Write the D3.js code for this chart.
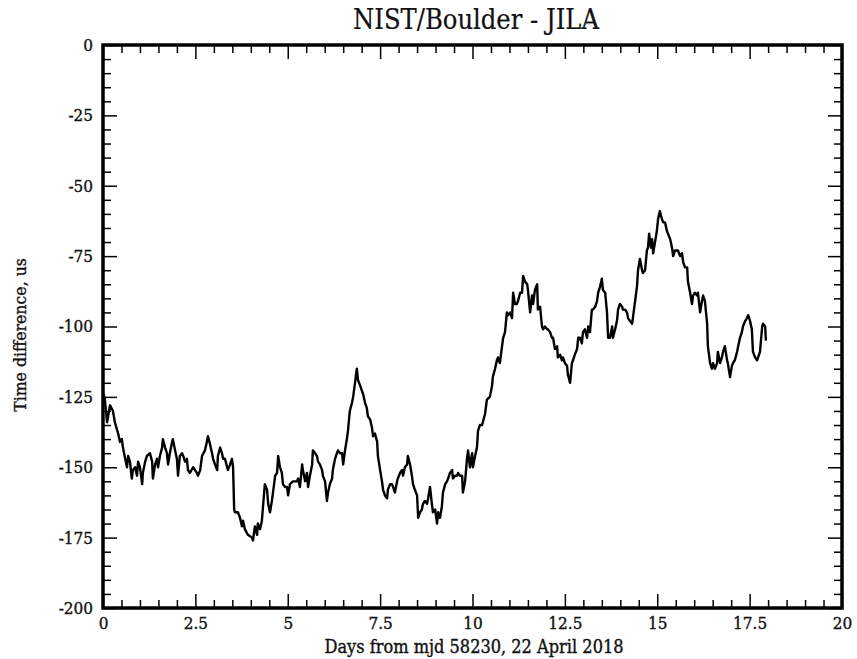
<!DOCTYPE html>
<html>
<head>
<meta charset="utf-8">
<script src="https://cdn.jsdelivr.net/npm/d3@7"></script>
<style>
  html, body { margin: 0; padding: 0; background: #fff; }
  svg { display: block; }
  .lbl { font-family: "DejaVu Serif Condensed", "DejaVu Serif", serif; font-stretch: condensed; fill: #111; stroke: #111; stroke-width: 0.35px; }
</style>
</head>
<body>
<svg id="chart" width="857" height="659"></svg>
<script>
// ---- data ----
const title = "NIST/Boulder - JILA";
const xLabel = "Days from mjd 58230, 22 April 2018";
const yLabel = "Time difference, us";
const xTicks = [0, 2.5, 5, 7.5, 10, 12.5, 15, 17.5, 20];
const yTicks = [0, -25, -50, -75, -100, -125, -150, -175, -200];

const days = [
  0.02,0.05,0.11,0.19,0.27,0.32,0.41,0.46,0.51,0.54,
  0.60,0.65,0.68,0.73,0.78,0.81,0.87,0.92,0.95,1.00,
  1.06,1.08,1.14,1.19,1.27,1.33,1.35,1.41,1.46,1.49,
  1.54,1.60,1.62,1.68,1.73,1.76,1.81,1.87,1.89,1.95,
  2.00,2.03,2.08,2.14,2.17,2.22,2.27,2.30,2.35,2.44,
  2.54,2.57,2.63,2.68,2.76,2.81,2.84,2.90,2.95,2.98,
  3.03,3.09,3.11,3.17,3.22,3.25,3.30,3.36,3.38,3.44,
  3.49,3.52,3.55,3.57,3.65,3.71,3.76,3.79,3.84,3.92,
  4.03,4.06,4.11,4.17,4.19,4.25,4.30,4.33,4.38,4.44,
  4.47,4.52,4.57,4.60,4.66,4.71,4.74,4.79,4.84,4.87,
  4.93,4.98,5.01,5.06,5.14,5.25,5.28,5.33,5.39,5.41,
  5.47,5.52,5.55,5.60,5.66,5.68,5.74,5.79,5.82,5.87,
  5.93,5.95,6.01,6.06,6.09,6.14,6.20,6.22,6.28,6.33,
  6.36,6.41,6.47,6.50,6.55,6.60,6.63,6.68,6.74,6.77,
  6.82,6.87,6.90,6.96,7.01,7.04,7.09,7.14,7.17,7.23,
  7.28,7.31,7.36,7.42,7.44,7.50,7.55,7.58,7.63,7.69,
  7.71,7.77,7.82,7.85,7.90,7.96,7.98,8.04,8.09,8.12,
  8.17,8.23,8.25,8.31,8.36,8.39,8.44,8.50,8.53,8.58,
  8.63,8.66,8.71,8.77,8.80,8.85,8.90,8.93,8.99,9.04,
  9.07,9.12,9.17,9.20,9.26,9.31,9.34,9.39,9.45,9.47,
  9.53,9.58,9.61,9.66,9.72,9.74,9.80,9.85,9.88,9.93,
  9.99,10.01,10.07,10.12,10.15,10.20,10.26,10.34,10.39,10.47,
  10.53,10.55,10.61,10.66,10.69,10.74,10.80,10.83,10.88,10.93,
  10.96,11.02,11.07,11.10,11.15,11.20,11.23,11.29,11.34,11.37,
  11.42,11.48,11.50,11.56,11.61,11.64,11.69,11.75,11.77,11.83,
  11.88,11.91,11.96,12.02,12.04,12.10,12.15,12.18,12.23,12.29,
  12.31,12.37,12.42,12.45,12.50,12.56,12.58,12.64,12.69,12.72,
  12.77,12.83,12.86,12.91,12.96,12.99,13.04,13.10,13.13,13.18,
  13.23,13.26,13.32,13.37,13.40,13.45,13.50,13.53,13.59,13.64,
  13.67,13.72,13.78,13.80,13.86,13.91,13.94,13.99,14.05,14.07,
  14.13,14.18,14.21,14.26,14.32,14.34,14.40,14.45,14.48,14.53,
  14.59,14.61,14.67,14.72,14.75,14.78,14.83,14.86,14.89,14.94,
  14.99,15.02,15.07,15.13,15.16,15.21,15.26,15.29,15.35,15.40,
  15.43,15.48,15.53,15.56,15.62,15.67,15.70,15.75,15.81,15.83,
  15.89,15.94,15.97,16.02,16.08,16.10,16.16,16.21,16.24,16.29,
  16.35,16.37,16.43,16.48,16.51,16.56,16.62,16.64,16.70,16.75,
  16.78,16.83,16.89,16.91,16.97,17.02,17.05,17.10,17.16,17.19,
  17.24,17.29,17.32,17.38,17.43,17.46,17.51,17.56,17.59,17.65,
  17.70,17.73,17.78,17.84,17.86,17.92,17.94
];
const timeDiff = [
  -124,-126,-134,-128,-130,-134,-138,-141,-140,-143,
  -147,-150,-146,-148,-154,-151,-150,-153,-148,-150,
  -156,-152,-148,-146,-145,-148,-154,-149,-147,-150,
  -146,-143,-140,-143,-145,-149,-145,-141,-140,-144,
  -147,-153,-146,-145,-146,-148,-147,-151,-152,-150,
  -152,-153,-151,-146,-144,-141,-139,-142,-145,-147,
  -149,-151,-146,-143,-145,-147,-147,-150,-151,-149,
  -147,-150,-165,-166,-166,-168,-171,-169,-172,-174,
  -175,-176,-171,-174,-170,-172,-169,-164,-156,-158,
  -163,-166,-162,-159,-153,-152,-146,-150,-152,-156,
  -157,-157,-160,-156,-155,-155,-154,-157,-149,-151,
  -155,-152,-157,-153,-149,-144,-145,-146,-148,-149,
  -151,-153,-155,-162,-159,-156,-154,-151,-147,-145,
  -144,-145,-145,-149,-144,-140,-137,-130,-127,-125,
  -120,-115,-119,-121,-123,-124,-127,-129,-132,-133,
  -136,-139,-138,-141,-146,-151,-155,-158,-160,-161,
  -158,-156,-156,-157,-159,-155,-154,-152,-151,-153,
  -150,-149,-146,-149,-153,-156,-158,-160,-168,-166,
  -165,-163,-162,-163,-161,-157,-163,-166,-165,-170,
  -166,-168,-164,-159,-156,-155,-154,-152,-151,-154,
  -153,-153,-152,-153,-153,-159,-155,-147,-144,-150,
  -145,-150,-146,-143,-137,-135,-135,-131,-126,-125,
  -121,-118,-115,-112,-111,-113,-107,-104,-102,-95,
  -96,-95,-97,-88,-92,-92,-91,-88,-88,-82,
  -84,-85,-87,-95,-89,-92,-87,-85,-94,-93,
  -100,-101,-100,-101,-101,-102,-104,-104,-108,-107,
  -111,-110,-112,-111,-113,-114,-117,-120,-113,-112,
  -110,-108,-104,-104,-106,-102,-101,-104,-100,-102,
  -94,-94,-93,-91,-88,-86,-83,-87,-88,-95,
  -104,-104,-100,-104,-101,-98,-94,-92,-93,-94,
  -94,-95,-97,-98,-99,-97,-91,-86,-80,-76,
  -80,-81,-80,-73,-72,-67,-72,-69,-74,-70,
  -66,-62,-59,-62,-63,-63,-66,-67,-69,-72,
  -75,-73,-73,-73,-75,-74,-77,-79,-79,-84,
  -88,-92,-89,-88,-89,-88,-95,-91,-89,-91,
  -99,-107,-113,-115,-113,-115,-113,-109,-113,-111,
  -109,-107,-112,-113,-118,-114,-113,-112,-109,-107,
  -104,-102,-100,-98,-97,-96,-98,-101,-109,-111,
  -112,-111,-109,-100,-99,-100,-105
];

// ---- layout ----
const W = 857, H = 659;
const m = { left: 103, top: 45, right: 15, bottom: 51 };
const pw = W - m.left - m.right;   // 739
const ph = H - m.top - m.bottom;   // 563

const svg = d3.select("#chart");
const x = d3.scaleLinear().domain([0, 20]).range([m.left, m.left + pw]);
const y = d3.scaleLinear().domain([-200, 0]).range([m.top + ph, m.top]);

const xMinor = d3.range(0, 20.001, 0.5).filter(v => Math.abs(v / 2.5 - Math.round(v / 2.5)) > 1e-6);
const yMinor = d3.range(-200, 0.001, 5).filter(v => v % 25 !== 0);

const MAJ = 14, MIN = 8;
const fmt = v => String(v);   // plain hyphen-minus as in the reference

function styleAxis(g) {
  g.select(".domain").remove();
  g.selectAll(".tick line").attr("stroke", "#000").attr("stroke-width", 1.5);
  g.selectAll(".tick text").attr("class", "lbl").attr("font-size", 17).attr("fill", "#111");
}

// bottom
svg.append("g").attr("transform", `translate(0,${m.top + ph})`)
  .call(d3.axisBottom(x).tickValues(xTicks).tickSize(-MAJ).tickPadding(9).tickFormat(fmt))
  .call(styleAxis)
  .selectAll(".tick text").attr("y", 9);
svg.append("g").attr("transform", `translate(0,${m.top + ph})`)
  .call(d3.axisBottom(x).tickValues(xMinor).tickSize(-MIN).tickFormat(""))
  .call(styleAxis);
// top
svg.append("g").attr("transform", `translate(0,${m.top})`)
  .call(d3.axisTop(x).tickValues(xTicks).tickSize(-MAJ).tickFormat(""))
  .call(styleAxis);
svg.append("g").attr("transform", `translate(0,${m.top})`)
  .call(d3.axisTop(x).tickValues(xMinor).tickSize(-MIN).tickFormat(""))
  .call(styleAxis);
// left
svg.append("g").attr("transform", `translate(${m.left},0)`)
  .call(d3.axisLeft(y).tickValues(yTicks).tickSize(-MAJ).tickPadding(10).tickFormat(fmt))
  .call(styleAxis);
svg.append("g").attr("transform", `translate(${m.left},0)`)
  .call(d3.axisLeft(y).tickValues(yMinor).tickSize(-MIN).tickFormat(""))
  .call(styleAxis);
// right
svg.append("g").attr("transform", `translate(${m.left + pw},0)`)
  .call(d3.axisRight(y).tickValues(yTicks).tickSize(-MAJ).tickFormat(""))
  .call(styleAxis);
svg.append("g").attr("transform", `translate(${m.left + pw},0)`)
  .call(d3.axisRight(y).tickValues(yMinor).tickSize(-MIN).tickFormat(""))
  .call(styleAxis);

// series line
const pts = days.map((d, i) => [d, timeDiff[i]]).filter(p => p[1] !== undefined);
svg.append("path")
  .datum(pts)
  .attr("fill", "none")
  .attr("stroke", "#000")
  .attr("stroke-width", 2.4)
  .attr("stroke-linejoin", "round")
  .attr("d", d3.line().x(p => x(p[0])).y(p => y(p[1])));

// frame
svg.append("rect")
  .attr("x", m.left).attr("y", m.top).attr("width", pw).attr("height", ph)
  .attr("fill", "none").attr("stroke", "#000").attr("stroke-width", 3.5);

// title & labels
svg.append("text").attr("class", "lbl")
  .attr("x", 476).attr("y", 29).attr("text-anchor", "middle")
  .attr("font-size", 27).style("stroke-width", "0.2px").text(title);
svg.append("text").attr("class", "lbl")
  .attr("x", 474).attr("y", 653).attr("text-anchor", "middle")
  .attr("font-size", 18).text(xLabel);
svg.append("text").attr("class", "lbl")
  .attr("transform", "translate(26,335) rotate(-90)").attr("text-anchor", "middle")
  .attr("font-size", 17.5).text(yLabel);
</script>
</body>
</html>
